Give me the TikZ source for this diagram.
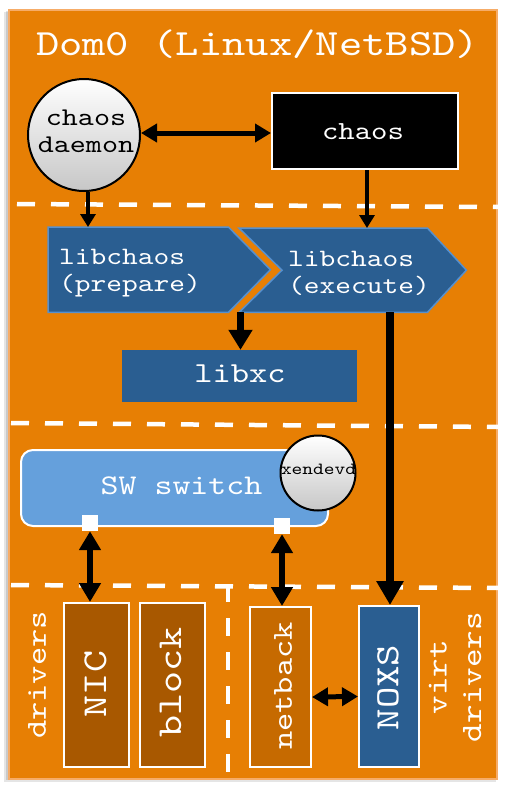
\documentclass[tikz,border=0pt]{standalone}
\usepackage{fontspec}
\newfontfamily\cour[FakeStretch=1.2]{lmmono10-regular.otf}
\usetikzlibrary{arrows.meta,calc}
\definecolor{bgor}{RGB}{231,127,4}
\definecolor{bgedge}{RGB}{246,172,104}
\definecolor{dblue}{RGB}{42,94,145}
\definecolor{lblue}{RGB}{86,144,206}
\definecolor{swblue}{RGB}{101,160,220}
\definecolor{brn}{RGB}{168,88,0}
\definecolor{nbor}{RGB}{198,106,0}
\tikzset{
  txt/.style={text=white, inner sep=0pt},
  fs/.style={font=\cour\fontsize{#1}{#1}\selectfont},
  ball/.style={circle, draw=black, line width=2pt, top color=white, bottom color=black!22, inner sep=0pt},
  whitebox/.style={rectangle, draw=white, line width=2pt, inner sep=0pt},
  sepline/.style={draw=white, line width=4.5pt, dash pattern=on 18pt off 16pt},
  arrthin/.style={line width=4pt, -{Triangle[length=13pt,width=15pt]}},
  arrmid/.style={line width=7pt, -{Triangle[length=20pt,width=23pt]}},
  arrbig/.style={line width=8pt, -{Triangle[length=24pt,width=26pt]}},
  dbl/.style={line width=5pt, {Triangle[length=16pt,width=18pt]}-{Triangle[length=16pt,width=18pt]}},
  dblbig/.style={line width=5.5pt, {Triangle[length=19pt,width=21pt]}-{Triangle[length=19pt,width=21pt]}},
  chev/.style={fill=dblue, draw=lblue, line width=1.5pt, line join=miter},
}
\begin{document}
\begin{tikzpicture}[x=1pt,y=-1pt]
\useasboundingbox (0,0) rectangle (505,788);
% background with soft shadow
\fill[black, opacity=0.10] (4,12) rectangle (496,782);
\fill[black, opacity=0.12] (5.5,11) rectangle (495,780);
\node[rectangle, draw=bgedge, line width=2pt, fill=bgor, minimum width=488pt, minimum height=769pt,
      anchor=north west, inner sep=0pt] (dom) at (8,8.5) {};
\node[txt, fs=37, anchor=base] (title) at (257.5,55) {Dom0 (Linux/NetBSD)};

% separators
\draw[sepline] (17,204) -- (500,207);
\draw[sepline] (11,423) -- (500,427);
\draw[sepline] (11,585) -- (500,588);
\draw[sepline, dash phase=4pt] (228,588) -- (228,777);

% top row
\node[ball, minimum size=112pt] (daemon) at (84,135) {};
\node[inner sep=0pt, fs=25.5, align=center, text=black] (daemontxt) at (86,131.5) {chaos\\[2pt]daemon};
\node[whitebox, fill=black, minimum width=186pt, minimum height=76pt] (chaos) at (365,131) {};
\node[txt, fs=26] (chaostxt) at (363,132) {chaos};
\draw[dbl] ([yshift=2pt]daemon.east) -- ([yshift=2pt]daemon.east -| chaos.west);

% libchaos chevrons
\node[rectangle, minimum width=180pt, minimum height=85pt, inner sep=0pt, anchor=north west] (prep) at (48,227) {};
\path[chev] (prep.north west) -- (prep.north east) -- ($(prep.east)+(42,0)$) -- (prep.south east) -- (prep.south west) -- cycle;
\node[txt, fs=25, align=left] (preptxt) at (130,273.5) {libchaos\\[2pt](prepare)};

\node[rectangle, minimum width=188pt, minimum height=84pt, inner sep=0pt, anchor=north west] (exe) at (239,228) {};
\path[chev] (exe.north west) -- (exe.north east) -- ($(exe.east)+(39,0)$) -- (exe.south east) -- (exe.south west) -- ($(exe.west)+(43,0)$) -- cycle;
\node[txt, fs=25, align=left] (exetxt) at (359,273) {libchaos\\[2pt](execute)};

\draw[arrthin] ([xshift=4pt]daemon.south) -- ([xshift=4pt]daemon.south |- prep.north);
\draw[arrthin] ([xshift=2pt]chaos.south) -- ([xshift=2pt]chaos.south |- exe.north);

% libxc
\node[rectangle, fill=dblue, minimum width=235pt, minimum height=52pt, inner sep=0pt] (libxc) at (239.5,376) {};
\node[txt, fs=29] (libxctxt) at (240,374) {libxc};
\draw[arrmid] ([xshift=1pt]libxc.north |- prep.south) -- ([xshift=1pt]libxc.north);

% SW switch
\node[rectangle, rounded corners=12pt, draw=white, line width=2pt, fill=swblue, minimum width=307pt, minimum height=76pt, inner sep=0pt] (sw) at (174.5,488) {};
\node[txt, fs=28.5] (swtxt) at (181.5,486) {SW switch};
\node[ball, minimum size=75pt] (xd) at (318,473) {};
\node[inner sep=0pt, fs=17, text=black] (xdtxt) at (318.5,469) {xendevd};
\node[rectangle, fill=white, minimum size=16pt, inner sep=0pt] (sq1) at (90,523) {};
\node[rectangle, fill=white, minimum size=16pt, inner sep=0pt] (sq2) at (282,526) {};

% bottom boxes
\node[whitebox, fill=brn, minimum width=65pt, minimum height=164pt] (nic) at (96.5,685) {};
\node[txt, fs=35, rotate=90] (nictxt) at (96,684) {NIC};
\node[whitebox, fill=brn, minimum width=65pt, minimum height=164pt] (blk) at (172.5,685) {};
\node[txt, fs=35, rotate=90] (blktxt) at (170.5,682.5) {block};
\node[whitebox, fill=nbor, minimum width=61pt, minimum height=160pt] (nb) at (280.5,687) {};
\node[txt, fs=29, rotate=90] (nbtxt) at (283,686) {netback};
\node[whitebox, fill=dblue, minimum width=60pt, minimum height=161pt] (noxs) at (389,686.5) {};
\node[txt, fs=34, rotate=90] (noxstxt) at (388,687.5) {NOXS};
\node[txt, fs=29, rotate=90] (drv) at (37,675) {drivers};
\node[txt, fs=29.5, rotate=90, align=center] (vdrv) at (455,677) {virt\\[5pt]drivers};

% connectors
\draw[arrbig] ([xshift=1pt]noxs.north |- exe.south) -- ([xshift=1pt]noxs.north);
\draw[dblbig] (sq1.south) -- (sq1.south |- nic.north);
\draw[dblbig] (sq2.south) -- (sq2.south |- nb.north);
\draw[dbl] ([yshift=-10pt]nb.east) -- ([yshift=-10pt]noxs.west);
\end{tikzpicture}
\end{document}
